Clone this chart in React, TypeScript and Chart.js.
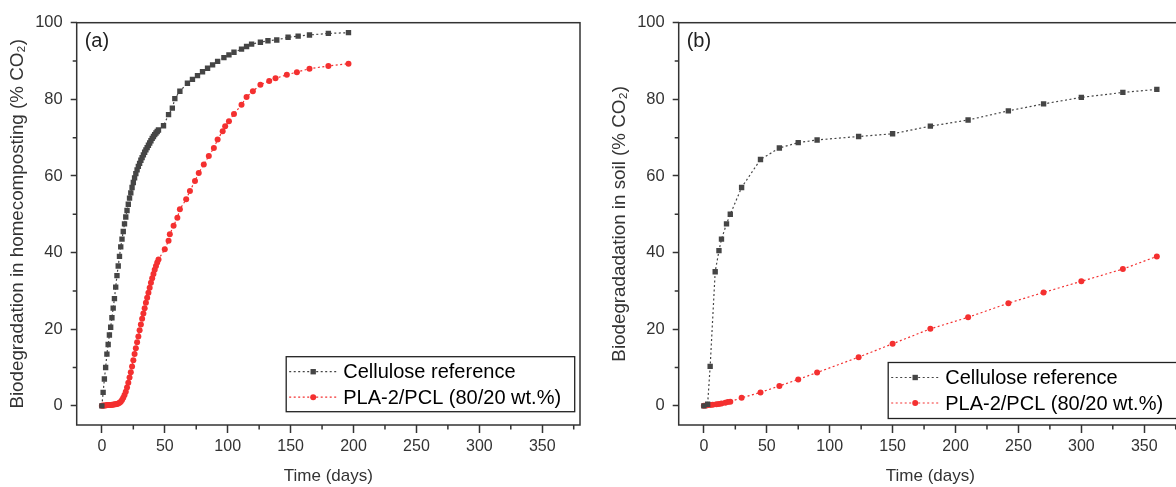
import React, { useEffect, useRef } from 'react';
import { Chart, registerables } from 'chart.js';

Chart.register(...registerables);

// ---------- data: panel (a) home composting ----------
const aCelluloseDays = [0, 1, 2, 3, 4, 5, 6, 7, 8, 9, 10, 11, 12, 13, 14, 15, 16, 17, 18, 19, 20, 21, 22, 23, 24, 25, 26, 27, 28, 29, 30, 31, 32, 33, 34, 35, 36, 37, 38, 39, 40, 41, 42, 43, 44, 45, 49, 53, 56, 58, 62, 68, 72, 76, 80, 84, 88, 92, 97, 101, 105, 111, 115, 119, 126, 132, 139, 148, 156, 165, 180, 196];
const aCelluloseValues = [0, 3.5, 7, 10, 13.5, 16, 18.5, 20.5, 23, 25.5, 28, 31, 34, 36.5, 39, 41.5, 43.5, 45.5, 47.5, 49.3, 51, 52.6, 54.2, 55.6, 57, 58.3, 59.5, 60.6, 61.6, 62.5, 63.3, 64.1, 64.8, 65.5, 66.2, 66.8, 67.4, 68, 68.6, 69.2, 69.8, 70.3, 70.8, 71.2, 71.6, 72, 73.1, 76, 77.7, 80.2, 82.1, 84.2, 85.2, 86.2, 87.2, 88.1, 89, 89.9, 90.9, 91.6, 92.3, 93.1, 93.8, 94.4, 94.9, 95.3, 95.5, 96.2, 96.5, 96.8, 97.2, 97.4];

const aBlendDays = [0, 1, 2, 3, 4, 5, 6, 7, 8, 9, 10, 11, 12, 13, 14, 15, 16, 17, 18, 19, 20, 21, 22, 23, 24, 25, 26, 27, 28, 29, 30, 31, 32, 33, 34, 35, 36, 37, 38, 39, 40, 41, 42, 43, 44, 45, 50, 53, 54, 57, 60, 62, 67, 70, 74, 77, 81, 85, 89, 92, 96, 98, 101, 105, 111, 115, 120, 126, 133, 138, 147, 155, 165, 180, 196];
const aBlendValues = [0, 0.1, 0.1, 0.1, 0.2, 0.2, 0.2, 0.2, 0.3, 0.3, 0.4, 0.4, 0.5, 0.6, 0.8, 1.1, 1.5, 2.1, 2.8, 3.7, 4.8, 6, 7.4, 8.8, 10.3, 11.9, 13.5, 15, 16.6, 18.1, 19.7, 21.2, 22.7, 24.1, 25.5, 26.9, 28.2, 29.5, 30.8, 32.1, 33.3, 34.4, 35.5, 36.5, 37.4, 38.2, 40.9, 43.1, 44.8, 47, 49.1, 51.3, 53.9, 56.1, 58.7, 60.8, 63, 65.2, 67.3, 69.5, 71.7, 73, 74.3, 76.2, 78.6, 80.6, 82.1, 83.8, 84.8, 85.5, 86.4, 87.1, 88, 88.7, 89.3];

// ---------- data: panel (b) soil ----------
const bCelluloseDays = [0, 3, 5, 9, 12, 14, 18, 21, 30, 45, 60, 75, 90, 123, 150, 180, 210, 242, 270, 300, 333, 360];
const bCelluloseValues = [0, 0.4, 10.3, 35, 40.5, 43.5, 47.5, 50, 57, 64.3, 67.3, 68.7, 69.4, 70.3, 71, 73, 74.6, 77, 78.8, 80.5, 81.8, 82.6];

const bBlendDays = [0, 2, 3, 5, 7, 10, 12, 14, 17, 19, 21, 30, 45, 60, 75, 90, 123, 150, 180, 210, 242, 270, 300, 333, 360];
const bBlendValues = [0, 0.1, 0.2, 0.2, 0.3, 0.4, 0.5, 0.6, 0.8, 1.0, 1.1, 2.1, 3.5, 5.2, 6.9, 8.7, 12.7, 16.2, 20.1, 23.1, 26.8, 29.6, 32.5, 35.7, 39];

// ---------- ticks & labels ----------
const xMajorTicks = [0, 50, 100, 150, 200, 250, 300, 350];
const xMinorTicks = [25, 75, 125, 175, 225, 275, 325, 375];
const yMajorTicks = [0, 20, 40, 60, 80, 100];
const yMinorTicks = [10, 30, 50, 70, 90];

const seriesNames = ['Cellulose reference', 'PLA-2/PCL (80/20 wt.%)'];
const panelLabels = ['(a)', '(b)'];
const yTitles = ['Biodegradation in homecomposting (% CO\u2082)', 'Biodegradadation in soil (% CO\u2082)'];
const xTitle = 'Time (days)';

const FONT = '"Liberation Sans", Arial, sans-serif';
const GRAY = '#454545';
const RED = 'rgb(244, 48, 48)';
const AXIS = '#333333';

const decorPlugin = {
  id: 'panelDecor',
  afterDraw(chart: any, _args: any, opts: any) {
    const { ctx, chartArea } = chart;
    const xs = chart.scales.x;
    const ys = chart.scales.y;
    ctx.save();
    // frame
    ctx.strokeStyle = AXIS;
    ctx.lineWidth = 1.5;
    ctx.setLineDash([]);
    ctx.strokeRect(chartArea.left, chartArea.top, chartArea.right - chartArea.left, chartArea.bottom - chartArea.top);
    // minor ticks
    ctx.beginPath();
    xMinorTicks.forEach((v) => {
      const px = xs.getPixelForValue(v);
      ctx.moveTo(px, chartArea.bottom);
      ctx.lineTo(px, chartArea.bottom + 4.5);
    });
    yMinorTicks.forEach((v) => {
      const py = ys.getPixelForValue(v);
      ctx.moveTo(chartArea.left, py);
      ctx.lineTo(chartArea.left - 4, py);
    });
    ctx.stroke();
    // panel label
    ctx.fillStyle = '#222';
    ctx.font = `20px ${FONT}`;
    ctx.textBaseline = 'middle';
    ctx.textAlign = 'left';
    ctx.fillText(opts.label, chartArea.left + 8, chartArea.top + 19);
    // legend box
    const L = chartArea.left + opts.legendLeft;
    const T = opts.legendTop;
    ctx.lineWidth = 1.3;
    ctx.strokeStyle = '#222';
    ctx.strokeRect(L, T, opts.legendWidth, opts.legendHeight);
    chart.data.datasets.forEach((ds: any, i: number) => {
      const cy = T + 15 + i * 25.5;
      ctx.strokeStyle = ds.borderColor;
      ctx.lineWidth = 1.2;
      ctx.setLineDash(ds.borderDash);
      ctx.beginPath();
      ctx.moveTo(L + 3, cy);
      ctx.lineTo(L + 50, cy);
      ctx.stroke();
      ctx.setLineDash([]);
      ctx.fillStyle = ds.pointBackgroundColor;
      const mx = L + 27;
      if (ds.pointStyle === 'rect') {
        const s = ds.pointRadius * Math.SQRT1_2;
        ctx.fillRect(mx - s, cy - s, 2 * s, 2 * s);
      } else {
        ctx.beginPath();
        ctx.arc(mx, cy, ds.pointRadius, 0, Math.PI * 2);
        ctx.fill();
      }
      ctx.fillStyle = '#000';
      ctx.font = `20px ${FONT}`;
      ctx.textBaseline = 'middle';
      ctx.fillText(ds.label, L + 57, cy + 1);
    });
    ctx.restore();
  },
};

function makeConfig(
  celDays: number[], celVals: number[], blDays: number[], blVals: number[],
  yTitle: string, label: string, legendTop: number, legendHeight: number
): any {
  return {
    type: 'line',
    data: {
      datasets: [
        {
          label: seriesNames[0],
          data: celDays.map((d, i) => ({ x: d, y: celVals[i] })),
          borderColor: GRAY,
          borderWidth: 1.2,
          borderDash: [2, 2.5],
          pointStyle: 'rect',
          pointRadius: 3.8,
          pointBackgroundColor: GRAY,
          pointBorderWidth: 0,
          tension: 0,
        },
        {
          label: seriesNames[1],
          data: blDays.map((d, i) => ({ x: d, y: blVals[i] })),
          borderColor: RED,
          borderWidth: 1.2,
          borderDash: [2, 2.5],
          pointStyle: 'circle',
          pointRadius: 3,
          pointBackgroundColor: RED,
          pointBorderWidth: 0,
          tension: 0,
        },
      ],
    },
    options: {
      responsive: false,
      animation: false,
      devicePixelRatio: 1,
      layout: { padding: { left: 0, right: 20, top: 22.7, bottom: 0 } },
      plugins: {
        legend: { display: false },
        tooltip: { enabled: false },
        panelDecor: { label, legendLeft: 209.5, legendWidth: 288.5, legendTop, legendHeight },
      },
      scales: {
        x: {
          type: 'linear',
          min: -20,
          max: 380,
          afterBuildTicks: (s: any) => { s.ticks = xMajorTicks.map((v) => ({ value: v })); },
          afterFit: (s: any) => { s.height = 62; },
          grid: { display: true, drawOnChartArea: false, drawTicks: true, tickLength: 8, tickColor: AXIS, tickWidth: 1.5 },
          border: { display: false },
          ticks: { color: AXIS, font: { family: FONT, size: 16 }, padding: 4, maxRotation: 0 },
          title: { display: true, text: xTitle, color: AXIS, font: { family: FONT, size: 17 }, padding: { top: 0, bottom: 0 } },
        },
        y: {
          type: 'linear',
          min: -5,
          max: 100,
          afterBuildTicks: (s: any) => { s.ticks = yMajorTicks.map((v) => ({ value: v })); },
          afterFit: (s: any) => { s.width = 76.7; },
          grid: { display: true, drawOnChartArea: false, drawTicks: true, tickLength: 6, tickColor: AXIS, tickWidth: 1.5 },
          border: { display: false },
          ticks: { color: AXIS, font: { family: FONT, size: 16.5 }, padding: 8 },
          title: { display: true, text: yTitle, color: AXIS, font: { family: FONT, size: 18.8 }, padding: { top: 7, bottom: 0 } },
        },
      },
    },
    plugins: [decorPlugin],
  };
}

function Panel(props: { left: number; config: () => any }) {
  const ref = useRef<HTMLCanvasElement>(null);
  useEffect(() => {
    if (!ref.current) return;
    const chart = new Chart(ref.current, props.config());
    return () => chart.destroy();
  }, []);
  return (
    <canvas
      ref={ref}
      width={600}
      height={487}
      style={{ position: 'absolute', left: props.left, top: 0, width: 600, height: 487 }}
    />
  );
}

export default function App() {
  return (
    <div style={{ position: 'absolute', left: 0, top: 0, width: 1176, height: 487, overflow: 'hidden', background: '#fff' }}>
      <Panel
        left={0}
        config={() => makeConfig(aCelluloseDays, aCelluloseValues, aBlendDays, aBlendValues, yTitles[0], panelLabels[0], 356.7, 55)}
      />
      <Panel
        left={602}
        config={() => makeConfig(bCelluloseDays, bCelluloseValues, bBlendDays, bBlendValues, yTitles[1], panelLabels[1], 362.5, 56)}
      />
    </div>
  );
}
